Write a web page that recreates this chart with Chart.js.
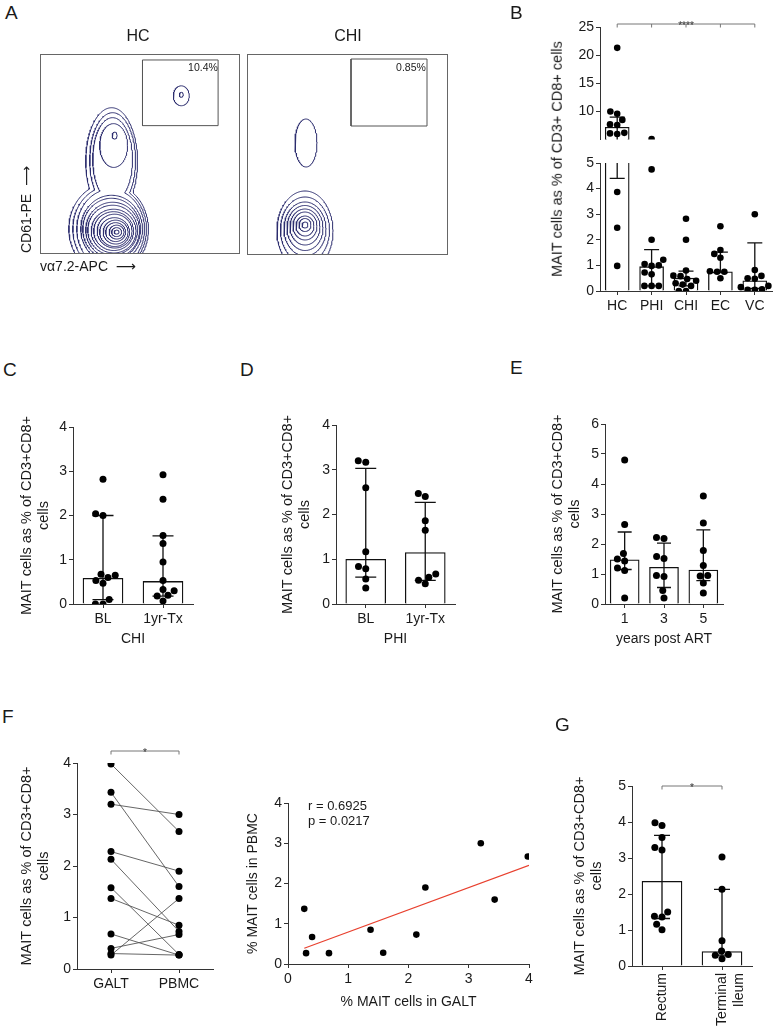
<!DOCTYPE html>
<html>
<head>
<meta charset="utf-8">
<script src="https://cdn.jsdelivr.net/npm/chart.js@4.4.1/dist/chart.umd.min.js"></script>
<style>
  body { margin: 0; width: 776px; height: 1033px; background: #fff; position: relative; overflow: hidden;
         font-family: 'Liberation Sans', 'DejaVu Sans', Arial, sans-serif; color: #1a1a1a; }
  canvas { position: absolute; }
  .lbl { position: absolute; white-space: nowrap; line-height: 1; }
</style>
</head>
<body>
<script>
// ---------- data ----------
// A: contour rings (cx, cy, rx, ry) in a 0-200 plot space
const hcBlobCx = [77, 77, 77, 76, 76, 75, 75, 74, 74, 73, 73, 72, 72];
const hcBlobCy = [21, 21, 21, 21, 21, 21, 22, 22, 22, 23, 23, 24, 24];
const hcBlobRx = [2.5, 5, 7.5, 10, 12.5, 15, 17.5, 20, 22.5, 25, 27, 29, 31];
const hcBlobRy = [2, 4.5, 7, 9.5, 12, 14.5, 17, 19.5, 22, 25, 28, 31, 34];
// outer contours joining both populations: lower part + upper part
const hcJoinLow = [[69, 24, 40, 46], [70, 24, 37, 43], [71, 24, 34, 40]];
const hcJoinUp = [[72, 92, 26, 54], [73, 93, 23, 48], [73, 94, 20, 42]];
const hcSmallCx = [74, 75, 142, 142];
const hcSmallCy = [108, 118, 158, 159];
const hcSmallRx = [14, 2.5, 8, 2];
const hcSmallRy = [22, 3.5, 10, 2.5];
const hcGate = [103, 128, 179, 194];

const chiBlobCx = [58, 58, 58, 58, 58, 58, 58, 58, 58, 59];
const chiBlobCy = [29, 29, 28, 28, 27, 26, 25, 24, 23, 111];
const chiBlobRx = [3, 6, 9, 12, 15, 18, 21, 24.5, 28, 11];
const chiBlobRy = [3, 6.5, 10, 14, 18, 22.5, 27, 33, 40, 24];
const chiGate = [104, 128, 180, 195];

// B
const bCats = ['HC', 'PHI', 'CHI', 'EC', 'VC'];
const bBars = [7.2, 0.95, 0.5, 0.75, 0.4];
const bErrLo = [4.4, 0.2, 0.2, 0.72, 0.1];
const bErrHi = [9.0, 1.62, 0.78, 1.52, 1.88];
const bHC = [21.3, 10.0, 9.6, 8.5, 7.7, 7.6, 6.2, 6.1, 6.0, 3.87, 2.47, 0.98];
const bPHI = [5.1, 4.75, 2.0, 1.22, 1.05, 1.0, 0.98, 0.72, 0.65, 0.2, 0.2, 0.2];
const bCHI = [2.82, 2.0, 0.8, 0.6, 0.58, 0.47, 0.4, 0.3, 0.25, 0.2, 0.0, 0.0];
const bEC = [2.53, 1.6, 1.45, 1.3, 0.77, 0.75, 0.75, 0.5];
const bVC = [3.0, 0.82, 0.59, 0.5, 0.48, 0.2, 0.15, 0.07, 0.05, 0.05];
const bUpperTicks = [10, 15, 20, 25];
const bLowerTicks = [0, 1, 2, 3, 4, 5];

// C
const cCats = ['BL', '1yr-Tx'];
const cBars = [0.58, 0.51];
const cErrLo = [0.1, 0.18];
const cErrHi = [2.0, 1.54];
const cBL = [2.82, 2.04, 2.0, 0.67, 0.65, 0.6, 0.53, 0.47, 0.1, 0.0, 0.0];
const cTx = [2.92, 2.37, 1.55, 1.37, 0.95, 0.53, 0.33, 0.3, 0.2, 0.18, 0.07];
const cTicks = [0, 1, 2, 3, 4];

// D
const dCats = ['BL', '1yr-Tx'];
const dBars = [1.0, 1.15];
const dErrLo = [0.6, 0.53];
const dErrHi = [3.03, 2.27];
const dBL = [3.2, 3.17, 2.6, 1.17, 0.84, 0.79, 0.56, 0.36];
const dTx = [2.47, 2.4, 1.86, 1.65, 0.67, 0.6, 0.53, 0.45];
const dTicks = [0, 1, 2, 3, 4];

// E
const eCats = ['1', '3', '5'];
const eBars = [1.47, 1.22, 1.13];
const eErrLo = [1.15, 0.55, 0.78];
const eErrHi = [2.4, 2.03, 2.47];
const e1 = [4.8, 2.65, 1.68, 1.5, 1.43, 1.2, 1.12, 0.2];
const e3 = [2.22, 2.18, 1.58, 1.52, 0.95, 0.92, 0.45, 0.2];
const e5 = [3.6, 2.7, 1.78, 1.28, 0.95, 0.93, 0.7, 0.37];
const eTicks = [0, 1, 2, 3, 4, 5, 6];

// F
const fCats = ['GALT', 'PBMC'];
const fGalt = [3.98, 3.43, 3.2, 2.28, 2.13, 1.58, 1.37, 0.68, 0.4, 0.3, 0.27];
const fPbmc = [2.67, 1.6, 3.0, 1.9, 0.73, 0.28, 0.85, 0.27, 0.67, 0.27, 1.37];
const fTicks = [0, 1, 2, 3, 4];
const fitX = [0.27, 4.0];
const fitY = [0.39, 2.45];

// G
const gCats = ['Rectum', ['Terminal', 'Ileum']];
const gBars = [2.35, 0.4];
const gErrLo = [1.32, 0.3];
const gErrHi = [3.63, 2.13];
const gRectum = [3.98, 3.9, 3.57, 3.29, 3.22, 1.5, 1.38, 1.36, 1.16, 1.01];
const gIleum = [3.03, 2.13, 0.7, 0.42, 0.32, 0.3, 0.2];
const gTicks = [0, 1, 2, 3, 4, 5];

// ---------- helpers ----------
const AX = '#333';
const NAVY = '#2c2d6e';
const FONT = "'Liberation Sans', 'DejaVu Sans', Arial, sans-serif";
Chart.defaults.font.family = FONT;
Chart.defaults.font.size = 14;
Chart.defaults.color = '#1a1a1a';

function addCanvas(b) {
  const c = document.createElement('canvas');
  c.width = b.w; c.height = b.h;
  c.style.left = b.x + 'px'; c.style.top = b.y + 'px';
  c.style.width = b.w + 'px'; c.style.height = b.h + 'px';
  document.body.appendChild(c);
  return c;
}

function addText(t, x, y, size, mode) {
  const d = document.createElement('div');
  d.className = 'lbl';
  d.textContent = t;
  d.style.left = x + 'px';
  d.style.top = y + 'px';
  d.style.fontSize = size + 'px';
  if (mode === 'c') d.style.transform = 'translate(-50%,-50%)';
  if (mode === 'r') d.style.transform = 'translate(-50%,-50%) rotate(-90deg)';
  document.body.appendChild(d);
}

// x offsets (px) so dots of one group don't overlap
function swarm(pys, d) {
  const order = pys.map((y, i) => i).sort((a, b) => pys[b] - pys[a]);
  const placed = [];
  const out = [];
  order.forEach(i => {
    const y = pys[i];
    const blocks = [];
    placed.forEach(p => {
      const dy = Math.abs(p.y - y);
      if (dy < d) {
        const w = Math.sqrt(d * d - dy * dy);
        blocks.push([p.x - w, p.x + w]);
      }
    });
    const cands = [0];
    blocks.forEach(b => cands.push(b[0], b[1]));
    cands.sort((a, b) => Math.abs(a) - Math.abs(b) || a - b);
    const x = cands.find(c => blocks.every(b => c <= b[0] + 1e-6 || c >= b[1] - 1e-6));
    out[i] = x;
    placed.push({ x, y });
  });
  return out;
}

const errPlugin = {
  id: 'errbars',
  afterDatasetDraw(chart, args, o) {
    if (args.index !== 0 || !o.lo) return;
    const { ctx, chartArea: a } = chart;
    const xs = chart.scales.x, ys = chart.scales.y;
    ctx.save();
    ctx.strokeStyle = '#111';
    ctx.lineWidth = 1.3;
    o.lo.forEach((lo, i) => {
      const px = xs.getPixelForValue(i);
      const yl = ys.getPixelForValue(lo), yh = ys.getPixelForValue(o.hi[i]);
      const t = Math.max(a.top, yh), b = Math.min(a.bottom, yl);
      ctx.beginPath();
      if (b > t) { ctx.moveTo(px, t); ctx.lineTo(px, b); }
      [yl, yh].forEach(py => {
        if (py >= a.top - 0.5 && py <= a.bottom + 0.5) {
          ctx.moveTo(px - o.cap / 2, py); ctx.lineTo(px + o.cap / 2, py);
        }
      });
      ctx.stroke();
    });
    ctx.restore();
  }
};

const bracketPlugin = {
  id: 'bracket',
  afterDraw(chart, args, o) {
    if (!o.text) return;
    const { ctx, chartArea: a } = chart;
    const xs = chart.scales.x;
    const y = a.top - o.lift;
    const x0 = xs.getPixelForValue(o.from), x1 = xs.getPixelForValue(o.to);
    ctx.save();
    ctx.strokeStyle = '#777';
    ctx.lineWidth = 1;
    ctx.beginPath();
    ctx.moveTo(x0, y); ctx.lineTo(x1, y);
    o.ticks.forEach(t => {
      const px = xs.getPixelForValue(t);
      ctx.moveTo(px, y); ctx.lineTo(px, y + 3.5);
    });
    ctx.stroke();
    ctx.fillStyle = '#333';
    ctx.font = '10px ' + FONT;
    ctx.textAlign = 'center';
    ctx.textBaseline = 'alphabetic';
    ctx.fillText(o.text, (x0 + x1) / 2, y + 5);
    ctx.restore();
  }
};

function axisCommon() {
  return {
    offset: false,
    grid: { display: true, drawOnChartArea: false, drawTicks: true, tickLength: 4, color: AX, lineWidth: 1, offset: false },
    border: { display: true, color: AX, width: 1 }
  };
}

function barDot(o) {
  const cv = addCanvas(o.box);
  const n = o.cats.length;
  const keep = o.keep || [-Infinity, Infinity];
  const bars = {
    type: 'bar', order: 2, clip: 0,
    data: o.bars.map((v, i) => ({ x: i, y: v })),
    backgroundColor: '#fff', borderColor: '#111', borderWidth: 1.3, barThickness: o.barW
  };
  const dots = o.groups.map((g, i) => ({
    type: 'scatter', order: 1,
    data: g.filter(v => v >= keep[0] && v <= keep[1]).map(v => ({ x: i, y: v })),
    pointRadius: o.r || 3.5, pointBackgroundColor: '#000', pointBorderWidth: 0
  }));
  const chart = new Chart(cv, {
    type: 'scatter',
    data: { datasets: [bars, ...dots] },
    options: {
      responsive: false, animation: false, events: [],
      layout: { padding: o.pad },
      plugins: {
        legend: { display: false }, tooltip: { enabled: false },
        errbars: { lo: o.lo, hi: o.hi, cap: o.capW },
        bracket: o.bracket || {}
      },
      scales: {
        x: {
          type: 'linear', min: -0.5, max: n - 0.5, display: o.showX !== false,
          afterBuildTicks: s => { s.ticks = o.cats.map((c, i) => ({ value: i })); },
          afterFit: s => { s.height = o.xH || 0; },
          ticks: { callback: v => o.cats[v], padding: 3, autoSkip: false,
                   maxRotation: o.rot || 0, minRotation: o.rot || 0 },
          title: { display: !!o.xTitle, text: o.xTitle, padding: { top: 0, bottom: 4 } },
          ...axisCommon()
        },
        y: {
          type: 'linear', min: o.yMin, max: o.yMax,
          afterBuildTicks: s => { s.ticks = o.yTicks.map(v => ({ value: v })); },
          afterFit: s => { s.width = o.yW; },
          ticks: { padding: 2 },
          title: { display: !!o.yTitle, text: o.yTitle, font: { size: 14.5 }, padding: { top: o.titlePad || 0, bottom: 0 } },
          ...axisCommon()
        }
      }
    },
    plugins: [errPlugin, bracketPlugin]
  });
  const xs = chart.scales.x, ys = chart.scales.y;
  const unit = xs.getPixelForValue(1) - xs.getPixelForValue(0);
  dots.forEach((ds, i) => {
    const offs = swarm(ds.data.map(p => ys.getPixelForValue(p.y)), o.gap || 7.6);
    ds.data.forEach((p, k) => { p.x = i + offs[k] / unit; });
  });
  chart.update('none');
  return chart;
}

// points on an ellipse, starting at angle t0
function ellipse(cx, cy, rx, ry, t0 = 0) {
  const pts = [];
  for (let k = 0; k <= 160; k++) {
    const t = t0 + k / 160 * 2 * Math.PI;
    pts.push({ x: cx + rx * Math.cos(t), y: cy + ry * Math.sin(t) });
  }
  return pts;
}

function inside(e, p) {
  const dx = (p.x - e[0]) / e[2], dy = (p.y - e[1]) / e[3];
  return dx * dx + dy * dy < 1;
}

// outline of two overlapping ellipses (lower + upper population)
function joined(lo, up) {
  const a = ellipse(lo[0], lo[1], lo[2], lo[3], Math.PI / 2).filter(p => !inside(up, p));
  const b = ellipse(up[0], up[1], up[2], up[3], 1.5 * Math.PI).filter(p => !inside(lo, p));
  const pts = a.concat(b);
  pts.push(pts[0]);
  return pts;
}

function flowChart(o) {
  const cv = addCanvas(o.box);
  const sets = [];
  const line = data => ({ data, showLine: true, pointRadius: 0, borderColor: NAVY, borderWidth: 1 });
  o.rings.forEach(r => r.cx.forEach((cx, i) => sets.push(line(ellipse(cx, r.cy[i], r.rx[i], r.ry[i])))));
  (o.joinLow || []).forEach((lo, i) => sets.push(line(joined(lo, o.joinUp[i]))));
  const g = o.gate;
  sets.push({ data: [{ x: g[0], y: g[1] }, { x: g[2], y: g[1] }, { x: g[2], y: g[3] }, { x: g[0], y: g[3] }, { x: g[0], y: g[1] }],
              showLine: true, pointRadius: 0, borderColor: '#555', borderWidth: 1 });
  const hidden = (pos, size) => ({
    type: 'linear', position: pos, min: 0, max: 200,
    ticks: { display: false }, grid: { display: false, drawTicks: false },
    border: { display: true, color: '#666', width: 1 },
    afterFit: s => { if (s.isHorizontal()) s.height = size; else s.width = size; }
  });
  new Chart(cv, {
    type: 'scatter',
    data: { datasets: sets },
    options: {
      responsive: false, animation: false, events: [],
      layout: { padding: o.pad },
      plugins: { legend: { display: false }, tooltip: { enabled: false } },
      scales: {
        x: { ...hidden('bottom', o.xH), title: { display: !!o.xTitle, text: o.xTitle, align: 'start', padding: { top: 0, bottom: 4 } } },
        y: { ...hidden('left', o.yW), title: { display: !!o.yTitle, text: o.yTitle, align: 'start', padding: { top: 19, bottom: 0 } } },
        x2: hidden('top', 0),
        y2: hidden('right', 0)
      }
    }
  });
}

// ---------- A ----------
flowChart({
  box: { x: 0, y: 40, w: 250, h: 240 }, pad: { top: 14, right: 11, left: 0, bottom: 0 }, yW: 40, xH: 27,
  rings: [{ cx: hcBlobCx, cy: hcBlobCy, rx: hcBlobRx, ry: hcBlobRy }, { cx: hcSmallCx, cy: hcSmallCy, rx: hcSmallRx, ry: hcSmallRy }],
  joinLow: hcJoinLow, joinUp: hcJoinUp,
  gate: hcGate, xTitle: 'vα7.2-APC  ⟶', yTitle: 'CD61-PE  ⟶'
});
flowChart({
  box: { x: 245, y: 40, w: 210, h: 240 }, pad: { top: 14, right: 8, left: 0, bottom: 0 }, yW: 2, xH: 26,
  rings: [{ cx: chiBlobCx, cy: chiBlobCy, rx: chiBlobRx, ry: chiBlobRy }],
  gate: chiGate
});

// ---------- B (broken axis: two stacked charts) ----------
const bGroups = [bHC, bPHI, bCHI, bEC, bVC];
barDot({
  box: { x: 500, y: 0, w: 276, h: 150 }, pad: { top: 27, right: 1, left: 0, bottom: 3 }, yW: 100, showX: false,
  cats: bCats, bars: bBars, lo: bErrLo, hi: bErrHi, groups: bGroups, keep: [5.01, 100],
  yMin: 5, yMax: 25, yTicks: bUpperTicks, barW: 24, capW: 15, r: 3.3, gap: 7.2,
  bracket: { from: 0, to: 4, ticks: [0, 1, 2, 3, 4], text: '****', lift: 3 }
});
barDot({
  box: { x: 500, y: 150, w: 276, h: 170 }, pad: { top: 13, right: 1, left: 0, bottom: 0 }, yW: 100, xH: 29,
  cats: bCats, bars: bBars, lo: bErrLo, hi: bErrHi, groups: bGroups, keep: [-1, 5],
  yMin: 0, yMax: 5, yTicks: bLowerTicks, barW: 24, capW: 15, r: 3.3, gap: 7.2
});

// ---------- C, D, E ----------
const yTitleMAIT = ['MAIT cells as % of CD3+CD8+', 'cells'];
barDot({
  box: { x: 0, y: 395, w: 240, h: 257 }, pad: { top: 32, right: 47, left: 0, bottom: 0 }, yW: 73, xH: 48,
  cats: cCats, bars: cBars, lo: cErrLo, hi: cErrHi, groups: [cBL, cTx],
  yMin: 0, yMax: 4, yTicks: cTicks, barW: 40, capW: 21, xTitle: 'CHI', yTitle: yTitleMAIT, titlePad: 18.3
});
barDot({
  box: { x: 250, y: 395, w: 230, h: 257 }, pad: { top: 30, right: 25, left: 0, bottom: 0 }, yW: 86, xH: 48,
  cats: dCats, bars: dBars, lo: dErrLo, hi: dErrHi, groups: [dBL, dTx],
  yMin: 0, yMax: 4, yTicks: dTicks, barW: 40, capW: 21, xTitle: 'PHI', yTitle: yTitleMAIT, titlePad: 29.3
});
barDot({
  box: { x: 510, y: 395, w: 240, h: 257 }, pad: { top: 29, right: 27, left: 0, bottom: 0 }, yW: 95, xH: 48,
  cats: eCats, bars: eBars, lo: eErrLo, hi: eErrHi, groups: [e1, e3, e5],
  yMin: 0, yMax: 6, yTicks: eTicks, barW: 29, capW: 14, xTitle: 'years post ART', yTitle: yTitleMAIT, titlePad: 39.3
});

// ---------- F (paired) ----------
(function () {
  const cv = addCanvas({ x: 0, y: 730, w: 230, h: 270 });
  const pairs = fGalt.map((g, i) => ({
    data: [{ x: 0, y: g }, { x: 1, y: fPbmc[i] }], showLine: true,
    borderColor: '#555', borderWidth: 0.9, pointRadius: 3.5, pointBackgroundColor: '#000', pointBorderWidth: 0
  }));
  new Chart(cv, {
    type: 'scatter',
    data: { datasets: pairs },
    options: {
      responsive: false, animation: false, events: [],
      layout: { padding: { top: 33, right: 17, left: 0, bottom: 0 } },
      plugins: { legend: { display: false }, tooltip: { enabled: false },
                 bracket: { from: 0, to: 1, ticks: [0, 1], text: '*', lift: 12 } },
      scales: {
        x: { type: 'linear', min: -0.5, max: 1.5,
             afterBuildTicks: s => { s.ticks = fCats.map((c, i) => ({ value: i })); },
             afterFit: s => { s.height = 31; },
             ticks: { callback: v => fCats[v], padding: 3 }, ...axisCommon() },
        y: { type: 'linear', min: 0, max: 4,
             afterBuildTicks: s => { s.ticks = fTicks.map(v => ({ value: v })); },
             afterFit: s => { s.width = 77; },
             ticks: { padding: 2 },
             title: { display: true, text: yTitleMAIT, font: { size: 14.5 }, padding: { top: 18.3, bottom: 0 } }, ...axisCommon() }
      }
    },
    plugins: [bracketPlugin]
  });
})();

// ---------- F (correlation) ----------
(function () {
  const cv = addCanvas({ x: 230, y: 785, w: 320, h: 230 });
  new Chart(cv, {
    type: 'scatter',
    data: { datasets: [
      { data: fGalt.map((g, i) => ({ x: g, y: fPbmc[i] })), pointRadius: 3.3, pointBackgroundColor: '#000', pointBorderWidth: 0 },
      { data: fitX.map((x, i) => ({ x, y: fitY[i] })), showLine: true, pointRadius: 0, borderColor: '#e8402e', borderWidth: 1.2 }
    ] },
    options: {
      responsive: false, animation: false, events: [],
      layout: { padding: { top: 18, right: 21, left: 0, bottom: 0 } },
      plugins: { legend: { display: false }, tooltip: { enabled: false } },
      scales: {
        x: { type: 'linear', min: 0, max: 4,
             afterBuildTicks: s => { s.ticks = fTicks.map(v => ({ value: v })); },
             afterFit: s => { s.height = 51; },
             ticks: { padding: 3 },
             title: { display: true, text: '% MAIT cells in GALT', padding: { top: 0, bottom: 4 } }, ...axisCommon() },
        y: { type: 'linear', min: 0, max: 4,
             afterBuildTicks: s => { s.ticks = fTicks.map(v => ({ value: v })); },
             afterFit: s => { s.width = 58; },
             ticks: { padding: 2 },
             title: { display: true, text: '% MAIT cells in PBMC', padding: { top: 14.6, bottom: 0 } }, ...axisCommon() }
      }
    }
  });
})();

// ---------- G ----------
barDot({
  box: { x: 530, y: 740, w: 246, h: 293 }, pad: { top: 46, right: 24, left: 0, bottom: 0 }, yW: 102, xH: 67,
  cats: gCats, bars: gBars, lo: gErrLo, hi: gErrHi, groups: [gRectum, gIleum], rot: 90,
  yMin: 0, yMax: 5, yTicks: gTicks, barW: 40, capW: 16, yTitle: yTitleMAIT, titlePad: 41.3,
  bracket: { from: 0, to: 1, ticks: [0, 1], text: '*', lift: 0 }
});

// ---------- text ----------
addText('A', 5, 2.5, 19);
addText('B', 510, 2.5, 19);
addText('C', 3, 359.5, 19);
addText('D', 240, 359.5, 19);
addText('E', 510, 358, 19);
addText('F', 2, 707, 19);
addText('G', 555, 715, 19);
addText('HC', 138, 36, 16, 'c');
addText('CHI', 348, 36, 16, 'c');
addText('10.4%', 203, 67, 10.5, 'c');
addText('0.85%', 411, 67, 10.5, 'c');
addText('MAIT cells as % of CD3+ CD8+ cells', 557, 159, 14.5, 'r');
addText('r = 0.6925', 308, 799, 13);
addText('p = 0.0217', 308, 814, 13);
</script>
</body>
</html>
